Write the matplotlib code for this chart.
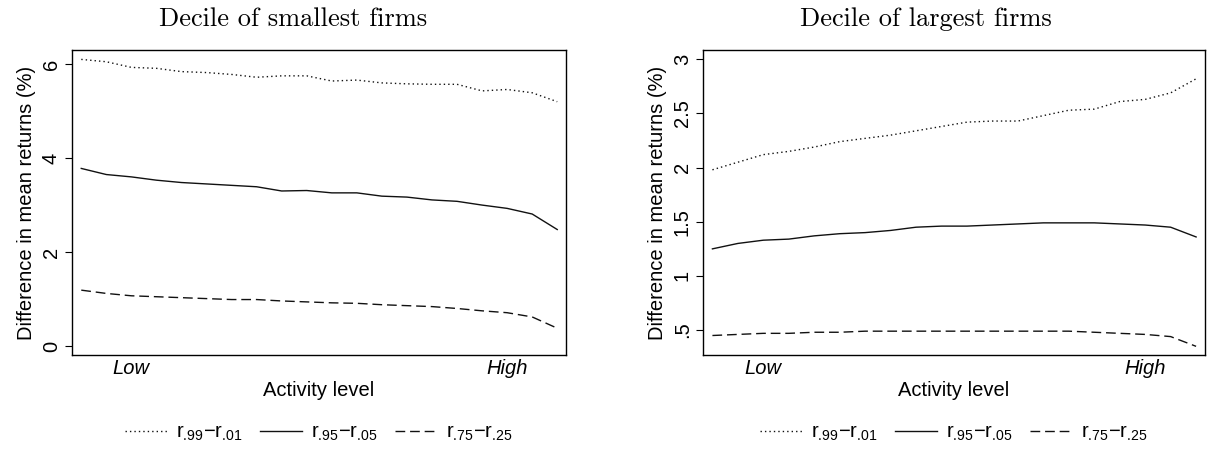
import numpy as np
import matplotlib
matplotlib.use("Agg")
import matplotlib.pyplot as plt

plt.rcParams['font.family'] = ['Liberation Sans', 'DejaVu Sans']
plt.rcParams['mathtext.fontset'] = 'custom'
plt.rcParams['mathtext.rm'] = 'Liberation Sans'
plt.rcParams['mathtext.it'] = 'Liberation Sans:italic'

# activity level groups (20 groups, Low -> High)
groups = np.arange(1, 21)

small_99_01 = [6.10, 6.05, 5.93, 5.91, 5.84, 5.82, 5.78, 5.72, 5.75, 5.75,
               5.64, 5.66, 5.60, 5.58, 5.57, 5.57, 5.43, 5.46, 5.39, 5.20]
small_95_05 = [3.78, 3.65, 3.60, 3.53, 3.48, 3.45, 3.42, 3.39, 3.30, 3.31,
               3.26, 3.26, 3.19, 3.17, 3.11, 3.08, 3.00, 2.93, 2.81, 2.48]
small_75_25 = [1.19, 1.12, 1.07, 1.05, 1.03, 1.01, 0.99, 0.99, 0.96, 0.94,
               0.92, 0.91, 0.88, 0.86, 0.84, 0.80, 0.75, 0.71, 0.62, 0.38]

large_99_01 = [1.98, 2.05, 2.12, 2.15, 2.19, 2.24, 2.27, 2.30, 2.34, 2.38,
               2.42, 2.43, 2.43, 2.48, 2.53, 2.54, 2.61, 2.63, 2.69, 2.82]
large_95_05 = [1.25, 1.30, 1.33, 1.34, 1.37, 1.39, 1.40, 1.42, 1.45, 1.46,
               1.46, 1.47, 1.48, 1.49, 1.49, 1.49, 1.48, 1.47, 1.45, 1.36]
large_75_25 = [0.45, 0.46, 0.47, 0.47, 0.48, 0.48, 0.49, 0.49, 0.49, 0.49,
               0.49, 0.49, 0.49, 0.49, 0.49, 0.48, 0.47, 0.46, 0.44, 0.35]

series_labels = ['r$_{\\text{.99}}$\u2212r$_{\\text{.01}}$',
                 'r$_{\\text{.95}}$\u2212r$_{\\text{.05}}$',
                 'r$_{\\text{.75}}$\u2212r$_{\\text{.25}}$']
styles = [(0, (1, 2.2)), '-', (0, (7, 3.5))]

x_tick_pos = [3, 18]
x_tick_labels = ['Low', 'High']

left_yticks = [0, 2, 4, 6]
left_yticklabels = ['0', '2', '4', '6']
right_yticks = [0.5, 1, 1.5, 2, 2.5, 3]
right_yticklabels = ['.5', '1', '1.5', '2', '2.5', '3']

FS = 14.5

fig = plt.figure(figsize=(12.28, 4.58), dpi=100)
ax1 = fig.add_axes([72 / 1228, 103 / 458, 494 / 1228, 305 / 458])
ax2 = fig.add_axes([703 / 1228, 103 / 458, 502 / 1228, 305 / 458])


def draw(ax, data, yticks, yticklabels, ylim, title, title_x):
    for vals, ls, lab in zip(data, styles, series_labels):
        ax.plot(groups, vals, color='#111111', lw=1.0, linestyle=ls, label=lab)
    ax.set_xlim(0.63, 20.35)
    ax.set_ylim(*ylim)
    ax.set_xticks(x_tick_pos)
    ax.set_xticklabels(x_tick_labels, fontstyle='italic', fontsize=FS)
    ax.tick_params(axis='x', length=0, pad=3)
    ax.set_yticks(yticks)
    ax.set_yticklabels(yticklabels, rotation=90, va='center', fontsize=FS)
    ax.tick_params(axis='y', length=5, width=0.8, direction='out', pad=3)
    for sp in ax.spines.values():
        sp.set_linewidth(1.0)
    ax.set_xlabel('Activity level', fontsize=FS, labelpad=2)
    ax.set_ylabel('Difference in mean returns (%)', fontsize=FS, labelpad=4)
    fig.text(title_x / 1228, 1 - 19 / 458, title, family='cmr10', fontsize=19,
             ha='center', va='center')
    bb = ax.get_position()
    ax.legend(loc='center', bbox_to_anchor=((bb.x0 + bb.x1) / 2, 1 - 433 / 458),
              bbox_transform=fig.transFigure, ncol=3, frameon=False,
              fontsize=FS, handlelength=2.1, columnspacing=0.85,
              handletextpad=0.45)


draw(ax1, [small_99_01, small_95_05, small_75_25], left_yticks,
     left_yticklabels, (-0.19, 6.30), 'Decile of smallest firms', 293)
draw(ax2, [large_99_01, large_95_05, large_75_25], right_yticks,
     right_yticklabels, (0.27, 3.086), 'Decile of largest firms', 926)

fig.savefig('out.png', dpi=100)
